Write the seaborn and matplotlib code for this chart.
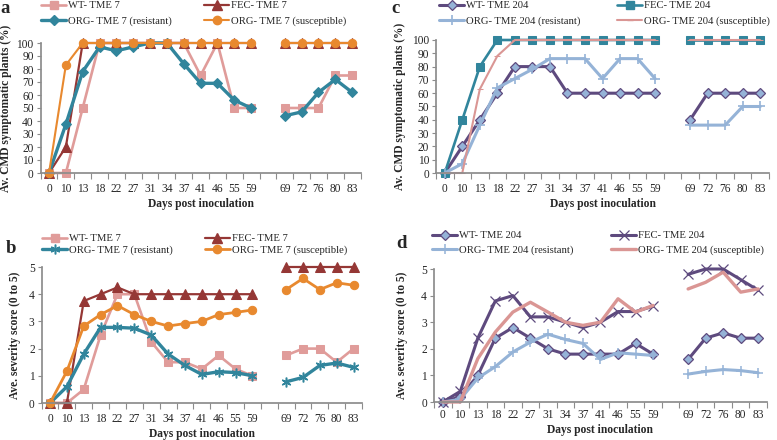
import numpy as np
import pandas as pd
import matplotlib
matplotlib.use("Agg")
import matplotlib.pyplot as plt
from matplotlib.lines import Line2D
import seaborn as sns

# ---------------- data ----------------
days_early = ["0", "10", "13", "18", "22", "27", "31", "34", "37", "41", "46", "55", "59"]
days_late = ["69", "72", "76", "80", "83"]
tick_labels = days_early + [""] + days_late

# Panel a: CMD symptomatic plants (%) TME 7
a_wt = [0, 0, 50, 100, 100, 100, 100, 100, 100, 75, 100, 50, 50] + [50, 50, 50, 75, 75]
a_fec = [0, 20, 100, 100, 100, 100, 100, 100, 100, 100, 100, 100, 100] + [100, 100, 100, 100, 100]
a_res = [0, 37.5, 78, 97, 94, 97, 100, 100, 84, 69, 69, 56, 50] + [44, 47, 62, 72, 62]
a_sus = [0, 83, 100, 100, 100, 100, 100, 100, 100, 100, 100, 100, 100] + [100, 100, 100, 100, 100]

# Panel b: severity TME 7
b_wt = [0, 0, 0.5, 2.5, 4.0, 4.0, 2.25, 1.5, 1.5, 1.25, 1.75, 1.25, 1.0] + [1.75, 2.0, 2.0, 1.5, 2.0]
b_fec = [0, 0, 3.75, 4.0, 4.25, 4.0, 4.0, 4.0, 4.0, 4.0, 4.0, 4.0, 4.0] + [5, 5, 5, 5, 5]
b_res = [0, 0.6, 1.8, 2.78, 2.78, 2.75, 2.5, 1.8, 1.38, 1.05, 1.15, 1.12, 1.0] + [0.78, 0.94, 1.38, 1.47, 1.31]
b_sus = [0, 1.17, 2.83, 3.25, 3.58, 3.25, 3.0, 2.83, 2.92, 3.0, 3.25, 3.33, 3.42] + [4.17, 4.58, 4.17, 4.42, 4.33]

# Panel c: CMD symptomatic plants (%) TME 204
c_wt = [0, 20, 40, 60, 80, 80, 80, 60, 60, 60, 60, 60, 60] + [40, 60, 60, 60, 60]
c_fec = [0, 40, 80, 100, 100, 100, 100, 100, 100, 100, 100, 100, 100] + [100, 100, 100, 100, 100]
c_res = [0, 7, 36, 64, 71, 78, 86, 86, 86, 71, 86, 86, 71] + [36, 36, 36, 50, 50]
c_sus = [0, 0, 63, 88, 100, 100, 100, 100, 100, 100, 100, 100, 100] + [100, 100, 100, 100, 100]

# Panel d: severity TME 204
d_wt = [0, 0.2, 1.0, 2.4, 2.8, 2.4, 2.0, 1.8, 1.8, 1.8, 1.8, 2.2, 1.8] + [1.6, 2.4, 2.6, 2.4, 2.4]
d_fec = [0, 0.4, 2.4, 3.8, 4.0, 3.2, 3.2, 3.0, 2.8, 3.0, 3.4, 3.4, 3.6] + [4.8, 5.0, 5.0, 4.6, 4.2]
d_res = [0, 0.1, 0.9, 1.33, 1.88, 2.25, 2.55, 2.35, 2.2, 1.6, 1.85, 1.8, 1.75] + [1.05, 1.15, 1.22, 1.18, 1.1]
d_sus = [0, 0, 1.63, 2.63, 3.38, 3.75, 3.38, 3.0, 2.88, 3.0, 3.88, 3.38, 3.63] + [4.25, 4.5, 4.88, 4.13, 4.25]

labels_7 = ["WT- TME 7", "FEC- TME 7", "ORG- TME 7 (resistant)", "ORG- TME 7 (susceptible)"]
labels_204 = ["WT- TME 204", "FEC- TME 204", "ORG- TME 204 (resistant)", "ORG- TME 204 (susceptible)"]

# ---------------- style ----------------
sns.set_theme(style="white")
plt.rcParams["font.family"] = ["Liberation Serif", "DejaVu Serif"]
plt.rcParams["axes.edgecolor"] = "#8c8c8c"

FS = 8.3
LFS = 7.7
W, H = 777, 440

PINK = "#E09C9A"
DRED = "#953735"
TEAL = "#31859C"
ORANGE = "#E8892F"
PURPLE = "#5E4A7E"
LBLUE = "#95B3D7"
SALMON = "#DA9694"

pos_early = list(range(len(days_early)))
pos_late = [len(days_early) + 1 + i for i in range(len(days_late))]


def make_df(values):
    n = len(days_early)
    seg = ["early"] * n + ["late"] * len(days_late)
    return pd.DataFrame({"pos": pos_early + pos_late, "val": values, "seg": seg})


def draw(ax, values, style):
    df = make_df(values)
    sns.lineplot(data=df, x="pos", y="val", units="seg", estimator=None, ax=ax,
                 legend=False, clip_on=False, sort=False, **style)


ASTER = (6, 2, 0)

styles_a = [
    dict(color=PINK, lw=1.9, marker="s", markersize=6, markeredgecolor=PINK, markerfacecolor=PINK),
    dict(color=DRED, lw=1.6, marker="^", markersize=6.5, markeredgecolor=DRED, markerfacecolor=DRED),
    dict(color=TEAL, lw=2.4, marker="D", markersize=4.8, markeredgecolor=TEAL, markerfacecolor=TEAL),
    dict(color=ORANGE, lw=1.5, marker="o", markersize=6, markeredgecolor=ORANGE, markerfacecolor=ORANGE),
]
styles_b = [
    styles_a[0], styles_a[1],
    dict(color=TEAL, lw=2.4, marker=ASTER, markersize=7, markeredgecolor=TEAL, markeredgewidth=1.1),
    dict(color=ORANGE, lw=2.0, marker="o", markersize=6, markeredgecolor=ORANGE, markerfacecolor=ORANGE),
]
styles_c = [
    dict(color=PURPLE, lw=2.2, marker="D", markersize=4.6, markeredgecolor=PURPLE, markerfacecolor=LBLUE, markeredgewidth=0.9),
    dict(color=TEAL, lw=1.9, marker="s", markersize=6, markeredgecolor=TEAL, markerfacecolor=TEAL),
    dict(color=LBLUE, lw=2.2, marker="+", markersize=7, markeredgecolor=LBLUE, markeredgewidth=1.2),
    dict(color=SALMON, lw=1.5, marker="_", markersize=4, markeredgecolor=SALMON),
]
styles_d = [
    styles_c[0],
    dict(color=PURPLE, lw=2.2, marker="x", markersize=6.5, markeredgecolor=PURPLE, markeredgewidth=0.9),
    dict(color=LBLUE, lw=2.2, marker="+", markersize=7, markeredgecolor=LBLUE, markeredgewidth=1.1),
    dict(color=SALMON, lw=2.4),
]

fig = plt.figure(figsize=(W / 100, H / 100), dpi=100)

# letter, axes px (left, top, right, bottom), series, styles, labels, ylim, yticks, ylabel,
# ylabel right-edge x px, letter (x, baseline) px, legend (x, top) px, column spacing,
# label spacing, xtick pad
panels = [
    ("a", (40.6, 43, 360.6, 173), [a_wt, a_fec, a_res, a_sus], styles_a, labels_7,
     (0, 100), np.arange(0, 101, 10), "Av. CMD symptomatic plants (%)", 12, (0, 13), (41, 1), 3.0, 0.5, 7),
    ("b", (41.6, 267, 362, 403), [b_wt, b_fec, b_res, b_sus], styles_b, labels_7,
     (0, 5), np.arange(0, 6, 1), "Ave. severity score (0 to 5)", 21, (6, 253), (42, 234), 2.95, 0.2, 7),
    ("c", (436, 40, 769, 173), [c_wt, c_fec, c_res, c_sus], styles_c, labels_204,
     (0, 100), np.arange(0, 101, 10), "Av. CMD symptomatic plants (%)", 406, (391, 13), (439, 1), 3.4, 0.5, 7),
    ("d", (434, 269, 767, 402), [d_wt, d_fec, d_res, d_sus], styles_d, labels_204,
     (0, 5), np.arange(0, 6, 1), "Ave. severity score (0 to 5)", 408, (396, 248), (432, 231), 3.5, 0.45, 5),
]

for (letter, box, series, styles, labs, ylim, yticks, ylab, ylab_x, let_xy, leg_xy,
     colsp, labsp, xpad) in panels:
    l, t, r, b = box
    ax = fig.add_axes([l / W, 1 - b / H, (r - l) / W, (b - t) / H])
    for vals, st in zip(series, styles):
        draw(ax, vals, st)
    ax.set_xlim(-0.5, len(tick_labels) - 0.5)
    ax.set_ylim(*ylim)
    ax.set_yticks(yticks)
    ax.set_yticklabels([str(int(v)) for v in yticks], fontsize=FS)
    # boundary tick marks (Excel style) + centred labels
    ax.set_xticks(np.arange(-0.5, len(tick_labels), 1.0))
    ax.set_xticklabels([])
    ax.set_xticks(np.arange(len(tick_labels)), minor=True)
    ax.set_xticklabels(tick_labels, minor=True, fontsize=FS)
    ax.tick_params(axis="x", which="major", direction="out", length=4, width=0.8,
                   color="#8c8c8c", bottom=True)
    ax.tick_params(axis="x", which="minor", length=0, pad=xpad)
    ax.tick_params(axis="y", direction="out", length=3, width=0.8, color="#8c8c8c",
                   left=True, pad=2)
    for s in ["top", "right"]:
        ax.spines[s].set_visible(False)
    ax.set_xlabel("Days post inoculation", fontsize=FS, fontweight="bold", labelpad=2)
    ax.set_ylabel(ylab, fontsize=FS, fontweight="bold")
    ax.yaxis.set_label_coords((ylab_x - l) / (r - l), 0.5)
    ax.grid(False)

    handles = [Line2D([0], [0], **st) for st in styles]
    order = [0, 2, 1, 3]
    fig.legend([handles[i] for i in order], [labs[i] for i in order],
               loc="upper left", bbox_to_anchor=(leg_xy[0] / W, 1 - leg_xy[1] / H), ncol=2,
               frameon=False, fontsize=LFS, handlelength=2.35, handletextpad=0.2,
               columnspacing=colsp, labelspacing=labsp, borderaxespad=0, borderpad=0)
    fig.text(let_xy[0] / W, 1 - let_xy[1] / H, letter, fontsize=13.5, fontweight="bold",
             ha="left", va="baseline")

fig.savefig("out.png", dpi=100)
